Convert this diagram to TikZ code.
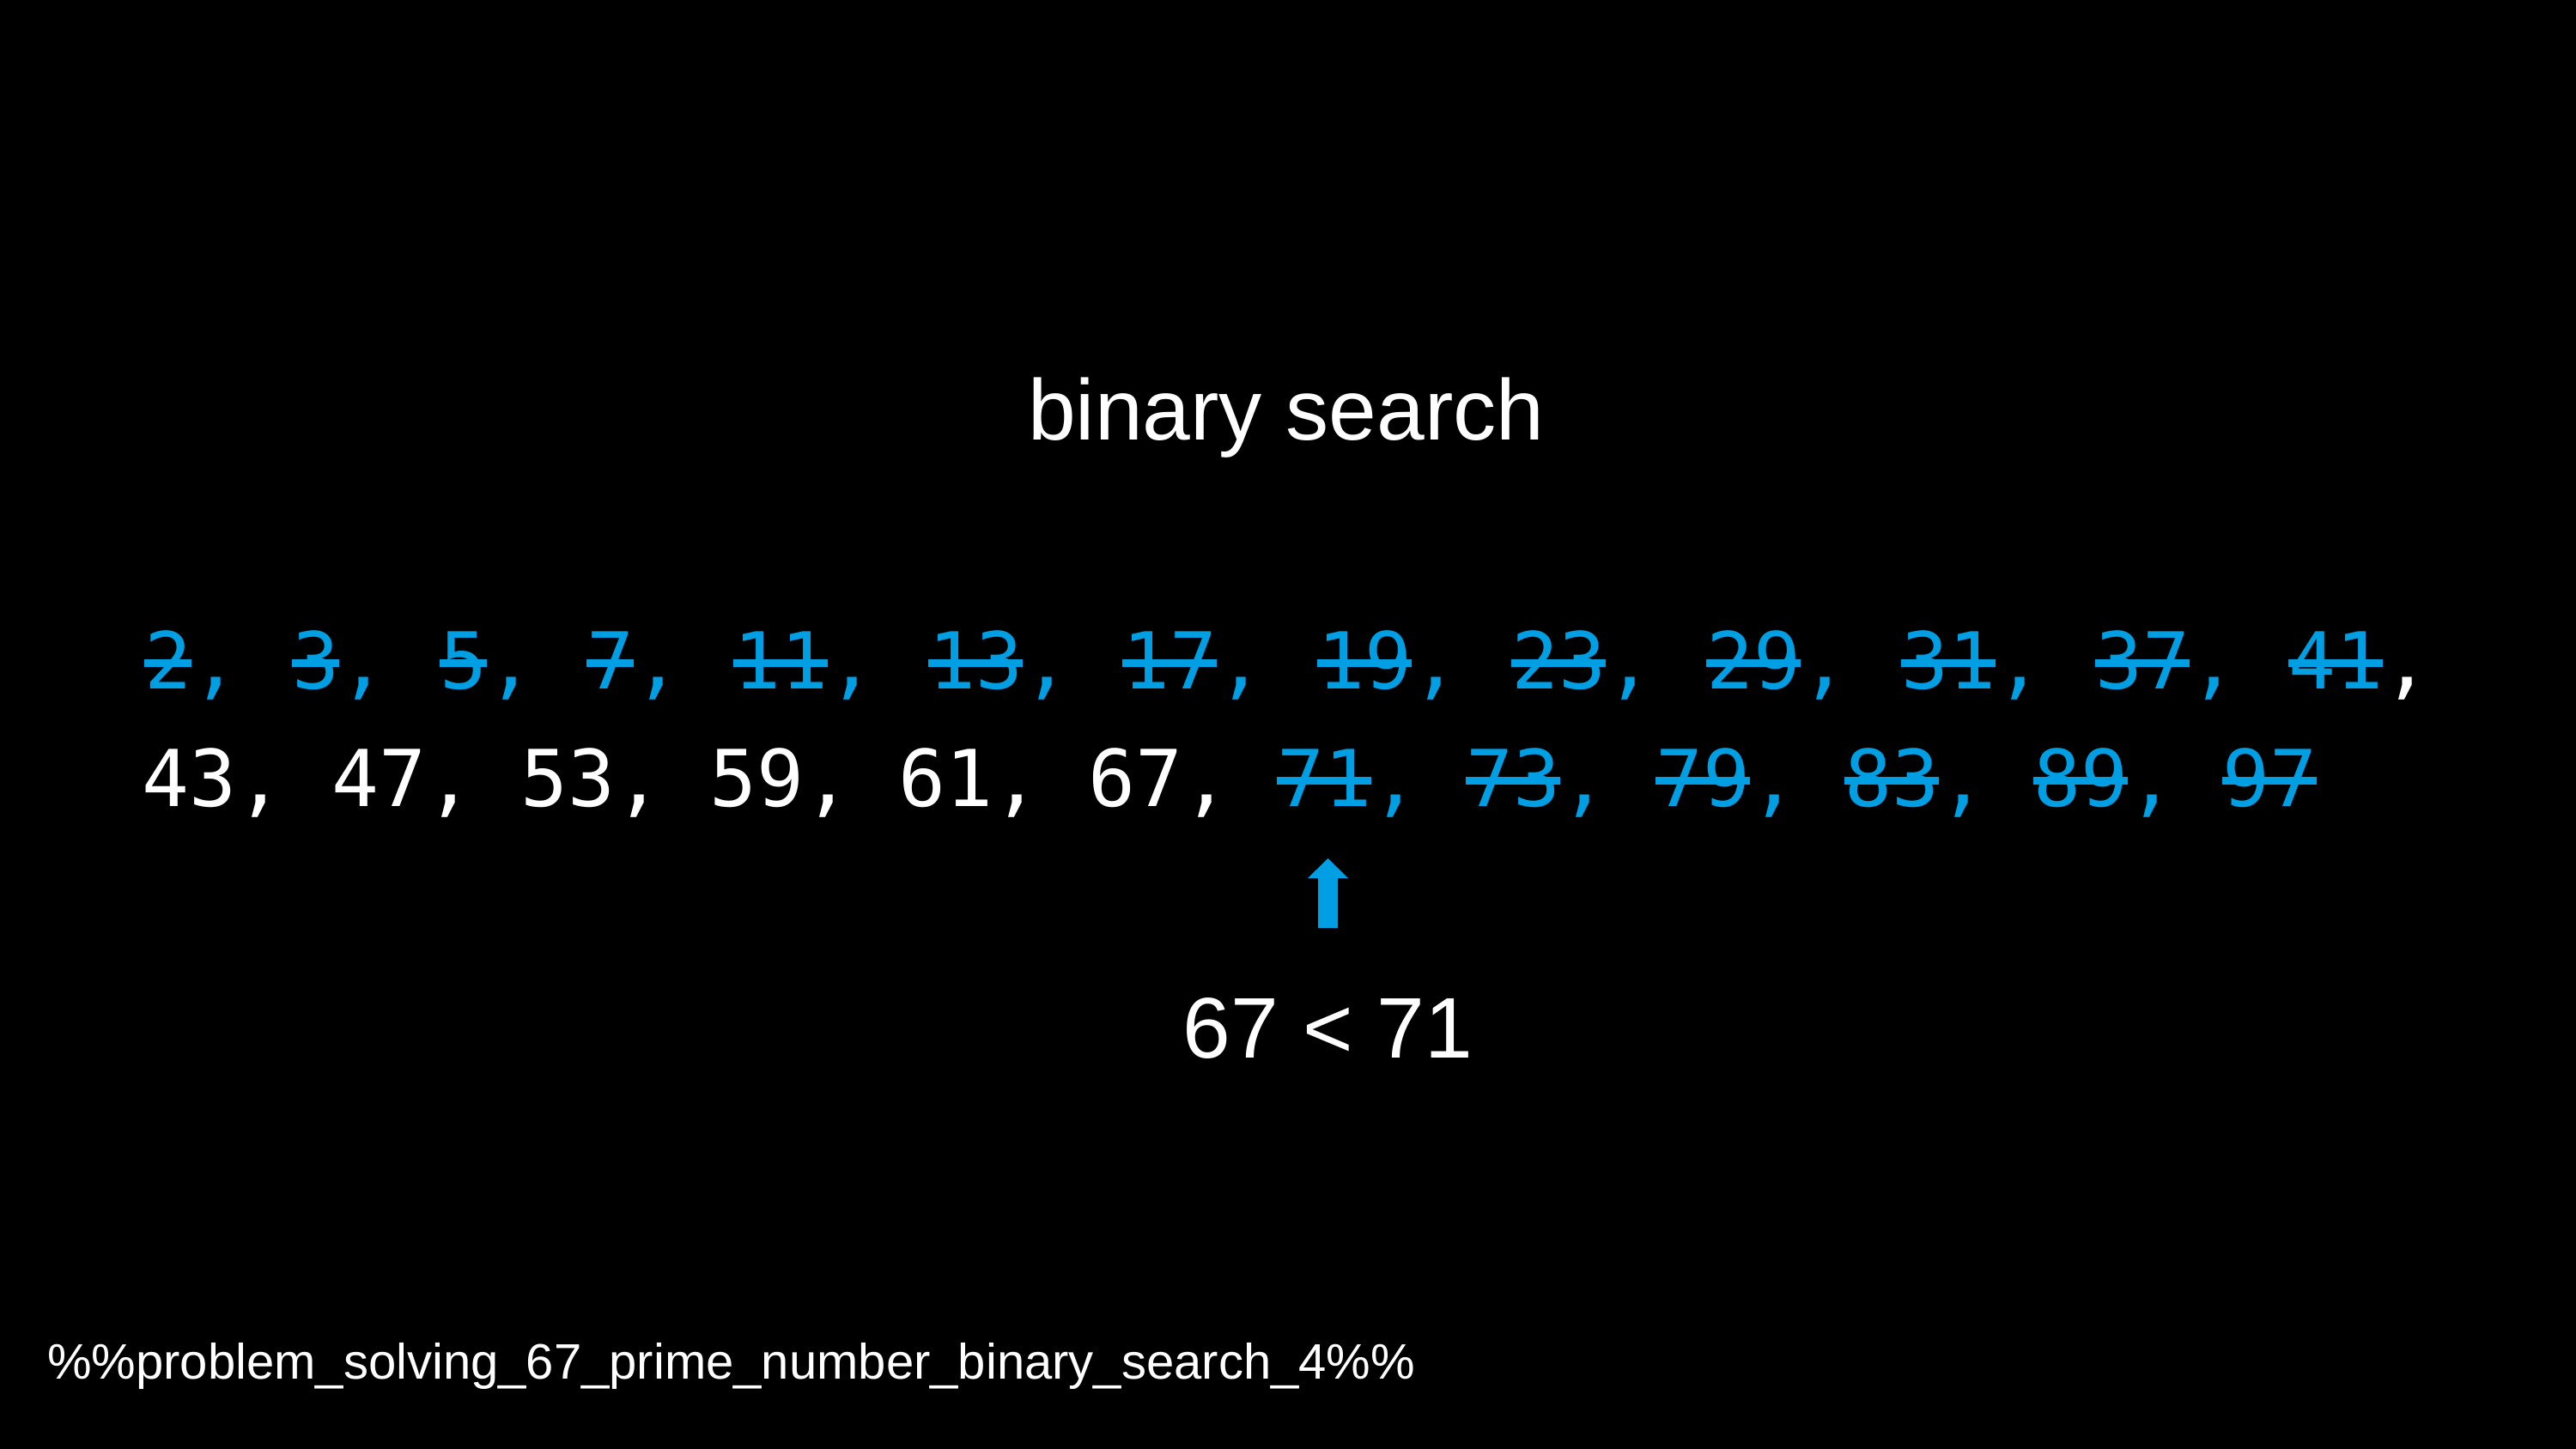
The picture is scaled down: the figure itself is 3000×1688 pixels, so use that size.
\documentclass[tikz,border=0pt]{standalone}
\usepackage{fontspec}
\setmainfont{Liberation Sans}
\newfontfamily\codefont{DejaVu Sans Mono}
\definecolor{struck}{RGB}{0,159,227}
\begin{document}
\begin{tikzpicture}[x=0.01cm,y=-0.01cm,
  txt/.style={text=white, inner sep=0pt, outer sep=0pt},
  code/.style={inner sep=0pt, outer sep=0pt, anchor=base west,
    font=\codefont\fontsize{26}{30}\selectfont},
  strikebar/.style={fill=struck}]
% canvas
\fill[black] (0,0) rectangle (3000,1688);
\useasboundingbox (0,0) rectangle (3000,1688);

% heading
\node[txt, anchor=base, font=\fontsize{28.5}{34}\selectfont] (title) at (1498,512) {binary search};

% first row of primes: x / value / number colour / comma colour / struck
\foreach \x/\v/\nc/\cc/\s [count=\i] in {
  168/2/struck/struck/1, 340/3/struck/struck/1, 512/5/struck/struck/1,
  683/7/struck/struck/1, 854/11/struck/struck/1, 1081/13/struck/struck/1,
  1307/17/struck/struck/1, 1534/19/struck/struck/1, 1760/23/struck/struck/1,
  1987/29/struck/struck/1, 2214/31/struck/struck/1, 2440/37/struck/struck/1,
  2665/41/struck/white/1}{
  \node[code, text=\nc] (ra\i) at (\x,802) {\v};
  \node[code, text=\cc] (rac\i) at (ra\i.base east) {,};
  \ifnum\s=1
    \fill[strikebar] ([yshift=7.0pt]ra\i.base west) rectangle ([yshift=9.8pt]ra\i.base east);
  \fi
}

% second row of primes: x / value / number colour / comma colour / struck / comma
\foreach \x/\v/\nc/\cc/\s/\m [count=\i] in {
  165/43/white/white/0/1, 386/47/white/white/0/1, 606/53/white/white/0/1,
  826/59/white/white/0/1, 1046/61/white/white/0/1, 1267/67/white/white/0/1,
  1487/71/struck/struck/1/1, 1707/73/struck/struck/1/1, 1928/79/struck/struck/1/1,
  2148/83/struck/struck/1/1, 2368/89/struck/struck/1/1, 2588/97/struck/struck/1/0}{
  \node[code, text=\nc] (rb\i) at (\x,939) {\v};
  \ifnum\m=1
    \node[code, text=\cc] (rbc\i) at (rb\i.base east) {,};
  \fi
  \ifnum\s=1
    \fill[strikebar] ([yshift=7.0pt]rb\i.base west) rectangle ([yshift=9.8pt]rb\i.base east);
  \fi
}

% pointer under 71
\coordinate (ptr) at (1546.5,1000);
\fill[struck] (ptr) -- ++(23.5,23) -- ++(-12,0) -- ++(0,58) -- ++(-23,0)
  -- ++(0,-58) -- ++(-12,0) -- cycle;

% comparison
\node[txt, anchor=base, font=\fontsize{28.5}{34}\selectfont] (cmp) at (1546.5,1232) {67 < 71};

% footer tag
\node[txt, anchor=base west, font=\fontsize{16.5}{20}\selectfont] (tag) at (55,1606)
  {\%\%problem\_solving\_67\_prime\_number\_binary\_search\_4\%\%};
\end{tikzpicture}
\end{document}
